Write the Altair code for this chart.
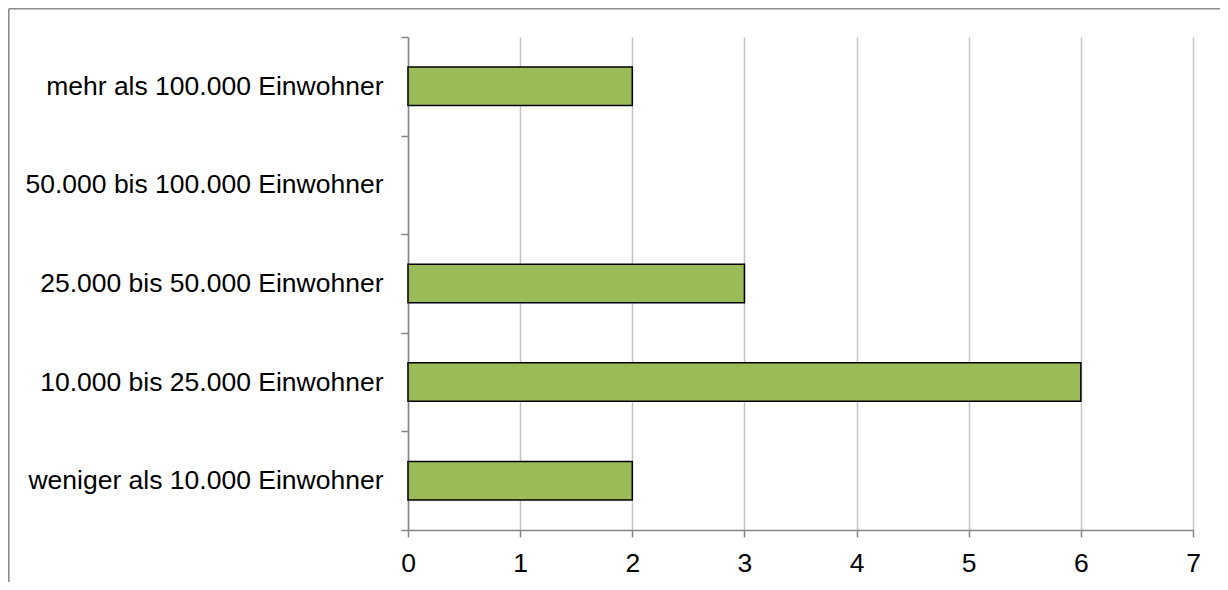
import altair as alt
import pandas as pd

categories = [
    "mehr als 100.000 Einwohner",
    "50.000 bis 100.000 Einwohner",
    "25.000 bis 50.000 Einwohner",
    "10.000 bis 25.000 Einwohner",
    "weniger als 10.000 Einwohner",
]
values = [2, 0, 3, 6, 2]
x_ticks = [0, 1, 2, 3, 4, 5, 6, 7]

df = pd.DataFrame({"category": categories, "value": values})

FONT = "Liberation Sans"
AXIS_GRAY = "#868686"

W, H = 785, 493
PAD_L, PAD_T = 400, 29

one = pd.DataFrame({"k": [0]})
top_line = alt.Chart(one).mark_rule(stroke="#8c8c8c", strokeWidth=1.6).encode(
    x=alt.value(-PAD_L + 0.8), x2=alt.value(W + 60), y=alt.value(-PAD_T + 0.8)
)
left_line = alt.Chart(one).mark_rule(stroke="#8c8c8c", strokeWidth=1.6).encode(
    x=alt.value(-PAD_L + 0.8), y=alt.value(-PAD_T + 0.8), y2=alt.value(H + 120)
)

bars = alt.Chart(df).transform_filter(
    alt.datum.value > 0
).mark_bar(
    height={"band": 0.39}, fill="#9BBB59", stroke="black", strokeWidth=1.5
).encode(
    x=alt.X(
        "value:Q",
        scale=alt.Scale(domain=[0, 7], nice=False),
        axis=alt.Axis(
            values=x_ticks, title=None, grid=True, gridColor="#c4c4c4",
            gridWidth=1.5, tickSize=7, tickColor=AXIS_GRAY, tickWidth=1.5,
            domainColor=AXIS_GRAY, domainWidth=1.5, labelFont=FONT,
            labelFontSize=26.5, labelColor="black", labelPadding=13,
            labelFlush=False, format="d",
        ),
    ),
    y=alt.Y(
        "category:N",
        scale=alt.Scale(domain=categories, paddingInner=0, paddingOuter=0),
        axis=alt.Axis(
            title=None, tickBand="extent", tickSize=7, tickColor=AXIS_GRAY,
            tickWidth=1.5, domainColor=AXIS_GRAY, domainWidth=1.5,
            labelFont=FONT, labelFontSize=26.5, labelColor="black",
            labelPadding=18, labelLimit=500, grid=False,
        ),
    ),
)

chart = alt.layer(bars, top_line, left_line).properties(
    width=W, height=H,
    autosize=alt.AutoSizeParams(type="none"),
    padding={"left": PAD_L, "top": PAD_T, "right": 27, "bottom": 52},
).configure_view(strokeWidth=0)

chart.save("out.html", embed_options={"renderer": "svg", "actions": False})
